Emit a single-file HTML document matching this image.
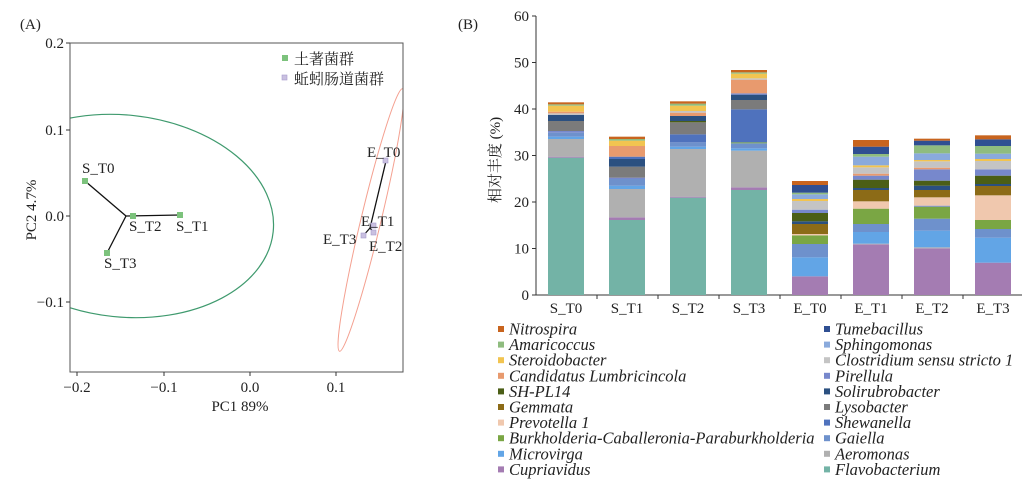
<!DOCTYPE html>
<html><head><meta charset="utf-8"><style>
body{margin:0;background:#fff;}
svg text{font-family:"Liberation Serif","Noto Serif CJK SC",serif;fill:#222;}
</style></head><body>
<svg width="1035" height="486" viewBox="0 0 1035 486" xmlns="http://www.w3.org/2000/svg">
<defs><clipPath id="cl"><rect x="70" y="43" width="333" height="329"/></clipPath></defs>
<text x="20" y="29" font-size="15">(A)</text>
<g clip-path="url(#cl)">
<ellipse cx="123" cy="216" rx="151" ry="101" transform="rotate(6 123 216)" fill="none" stroke="#3f9a6e" stroke-width="1.2"/>
<ellipse cx="371" cy="220" rx="10" ry="135" transform="rotate(13.5 371 220)" fill="none" stroke="#f4a090" stroke-width="1"/>
</g>
<rect x="70" y="43" width="333" height="329" fill="none" stroke="#555" stroke-width="1"/>
<g stroke="#333" stroke-width="1">
<line x1="66" y1="43" x2="70" y2="43"/><line x1="66" y1="130" x2="70" y2="130"/><line x1="66" y1="216" x2="70" y2="216"/><line x1="66" y1="302" x2="70" y2="302"/>
<line x1="77" y1="372" x2="77" y2="376"/><line x1="164" y1="372" x2="164" y2="376"/><line x1="250" y1="372" x2="250" y2="376"/><line x1="336" y1="372" x2="336" y2="376"/>
</g>
<g font-size="15" text-anchor="end">
<text x="64" y="48">0.2</text><text x="64" y="135">0.1</text><text x="64" y="221">0.0</text><text x="64" y="307">−0.1</text>
</g>
<g font-size="15" text-anchor="middle">
<text x="77" y="392">−0.2</text><text x="164" y="392">−0.1</text><text x="250" y="392">0.0</text><text x="336" y="392">0.1</text>
<text x="240" y="411">PC1 89%</text>
</g>
<text transform="translate(36 210) rotate(-90)" font-size="15" text-anchor="middle">PC2 4.7%</text>
<g stroke="#111" stroke-width="1.3">
<line x1="126" y1="216" x2="85" y2="181"/><line x1="126" y1="216" x2="180" y2="215"/><line x1="126" y1="216" x2="107" y2="253"/>
<line x1="370" y1="228" x2="386" y2="161"/><line x1="370" y1="228" x2="363" y2="236"/><line x1="370" y1="228" x2="374" y2="233"/>
</g>
<g fill="#7cc27c">
<rect x="82" y="178" width="6" height="6"/><rect x="130" y="213" width="6" height="6"/><rect x="177" y="212" width="6" height="6"/><rect x="104" y="250" width="6" height="6"/>
</g>
<g fill="#c9c0e0" stroke="#a89ccc" stroke-width="0.6">
<rect x="383" y="158" width="5" height="5"/><rect x="371" y="223" width="5" height="5"/><rect x="371" y="230" width="5" height="5"/><rect x="361" y="233" width="5" height="5"/>
</g>
<g font-size="15">
<text x="82" y="173">S_T0</text><text x="129" y="231">S_T2</text><text x="176" y="231">S_T1</text><text x="104" y="268">S_T3</text>
<text x="367" y="157">E_T0</text><text x="361" y="226">E_T1</text><text x="323" y="244">E_T3</text><text x="369" y="251">E_T2</text>
</g>
<rect x="282" y="55" width="6" height="6" fill="#7cc27c"/>
<rect x="282" y="75" width="5" height="5" fill="#c9c0e0" stroke="#a89ccc" stroke-width="0.6"/>
<text x="294" y="64" font-size="15">土著菌群</text>
<text x="294" y="84" font-size="15">蚯蚓肠道菌群</text>

<text x="458" y="29" font-size="15">(B)</text>
<line x1="536" y1="16" x2="536" y2="295" stroke="#333"/>
<line x1="536" y1="295" x2="1022" y2="295" stroke="#333"/>
<g stroke="#333">
<line x1="532" y1="16" x2="536" y2="16"/><line x1="532" y1="62.5" x2="536" y2="62.5"/><line x1="532" y1="109" x2="536" y2="109"/><line x1="532" y1="155.5" x2="536" y2="155.5"/><line x1="532" y1="202" x2="536" y2="202"/><line x1="532" y1="248.5" x2="536" y2="248.5"/><line x1="532" y1="295" x2="536" y2="295"/>
<line x1="597" y1="295" x2="597" y2="299"/><line x1="658" y1="295" x2="658" y2="299"/><line x1="719" y1="295" x2="719" y2="299"/><line x1="780" y1="295" x2="780" y2="299"/><line x1="841" y1="295" x2="841" y2="299"/><line x1="902" y1="295" x2="902" y2="299"/><line x1="963" y1="295" x2="963" y2="299"/>
</g>
<g font-size="15" text-anchor="end">
<text x="529" y="21">60</text><text x="529" y="67.5">50</text><text x="529" y="114">40</text><text x="529" y="160.5">30</text><text x="529" y="207">20</text><text x="529" y="253.5">10</text><text x="529" y="300">0</text>
</g>
<text transform="translate(500 160) rotate(-90)" font-size="15" text-anchor="middle">相对丰度 (%)</text>
<g font-size="15" text-anchor="middle">
<text x="566" y="313">S_T0</text><text x="627" y="313">S_T1</text><text x="688" y="313">S_T2</text><text x="749" y="313">S_T3</text><text x="810" y="313">E_T0</text><text x="871" y="313">E_T1</text><text x="932" y="313">E_T2</text><text x="993" y="313">E_T3</text>
</g>
<g id="bars"></g>
<g id="leg" font-size="16.5" font-style="italic"></g>
</svg>
<script>
var C={ni:"#c8641e",am:"#8fbc7f",st:"#f2c450",ca:"#e89a6e",sh:"#4b5e16",ge:"#8c6b17",pr:"#f0c8ae",bu:"#7aa644",mi:"#62a5e6",cu:"#a47cb2",tu:"#2f4f92",sp:"#8aaadc",cl:"#c4c4c4",pi:"#7788cc",so:"#2b5080",ly:"#7b7b7b",sw:"#4f72bd",ga:"#6e91cc",ae:"#b0b0b0",fl:"#73b3a6"};
var B=[
[548,[["fl",293],["cu",290],["ae",237],["mi",230],["ga",218],["pi",213],["ly",183],["so",165],["cl",160],["ca",155],["st",137],["am",133],["ni",127]]],
[609,[["fl",480],["cu",472],["ae",387],["mi",377],["ga",357],["pi",353],["ly",320],["so",297],["sw",290],["ca",258],["st",242],["am",237],["ni",230]]],
[670,[["fl",413],["cu",410],["ae",267],["mi",260],["ga",247],["sw",223],["ly",187],["sh",183],["so",168],["ca",158],["cl",153],["st",137],["am",131],["ni",124]]],
[731,[["fl",390],["cu",382],["ae",272],["mi",265],["ga",250],["bu",247],["sw",148],["ly",120],["so",104],["pi",100],["ca",59],["cl",55],["st",41],["am",37],["ni",30]]],
[792,[["cu",649],["mi",592],["ga",552],["bu",526],["pr",522],["ge",492],["so",484],["sh",459],["pi",449],["cl",423],["st",417],["sp",403],["am",398],["tu",375],["ni",363]]],
[853,[["cu",553],["ae",551],["mi",516],["ga",492],["bu",446],["pr",424],["ge",390],["so",384],["sh",359],["pi",347],["ca",341],["cl",322],["st",316],["sp",290],["am",282],["tu",260],["ni",240]]],
[914,[["cu",565],["ae",562],["mi",512],["ga",476],["bu",440],["pi",437],["pr",412],["ge",390],["so",377],["sh",362],["pi",328],["ca",323],["cl",304],["st",300],["sp",280],["am",256],["tu",242],["ni",236]]],
[975,[["cu",608],["mi",533],["ga",507],["bu",480],["pr",406],["ge",378],["so",372],["sh",347],["pi",328],["cl",303],["st",297],["sp",281],["am",258],["tu",238],["ni",226]]]];
var s="";
B.forEach(function(b){var prev=705;b[1].forEach(function(seg){var y1=60+seg[1]/3,y2=60+prev/3;s+='<rect x="'+b[0]+'" y="'+y1.toFixed(2)+'" width="36" height="'+(y2-y1).toFixed(2)+'" fill="'+C[seg[0]]+'"/>';prev=seg[1];});});
document.getElementById("bars").innerHTML=s;
var L1=[["ni","Nitrospira"],["am","Amaricoccus"],["st","Steroidobacter"],["ca","Candidatus Lumbricincola"],["sh","SH-PL14"],["ge","Gemmata"],["pr","Prevotella 1"],["bu","Burkholderia-Caballeronia-Paraburkholderia"],["mi","Microvirga"],["cu","Cupriavidus"]];
var L2=[["tu","Tumebacillus"],["sp","Sphingomonas"],["cl","Clostridium sensu stricto 1"],["pi","Pirellula"],["so","Solirubrobacter"],["ly","Lysobacter"],["sw","Shewanella"],["ga","Gaiella"],["ae","Aeromonas"],["fl","Flavobacterium"]];
var t="";
function col(L,x){L.forEach(function(e,i){var y=329+i*15.6;t+='<rect x="'+x+'" y="'+(y-3)+'" width="6" height="6" fill="'+C[e[0]]+'"/><text x="'+(x+11)+'" y="'+(y+5.5)+'">'+e[1]+'</text>';});}
col(L1,498);col(L2,824);
document.getElementById("leg").innerHTML=t;
</script>
</body></html>
